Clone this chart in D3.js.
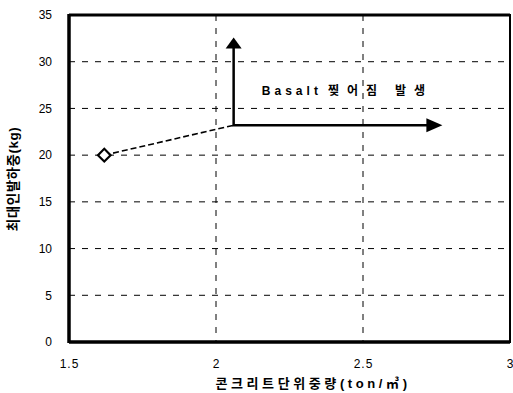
<!DOCTYPE html>
<html lang="ko">
<head>
<meta charset="UTF-8">
<title>콘크리트 단위중량 vs 최대인발하중</title>
<script src="https://d3js.org/d3.v7.min.js"></script>
<style>
  body { margin: 0; background: #fff; font-family: "Liberation Sans", Arial, "Noto Sans CJK KR", sans-serif; }
  .tick text { font-size: 12px; fill: #000; }
  .grid line { stroke: #000; stroke-width: 1; stroke-dasharray: 6,7; }
</style>
</head>
<body>
<script>
// data
const xTicks = [1.5, 2, 2.5, 3];
const yTicks = [0, 5, 10, 15, 20, 25, 30, 35];
const density = [1.62];        // ton/m3
const pullout = [20];          // kg
// dashed leader from the point to the arrow corner
const leaderX = [1.62, 2.06];
const leaderY = [20, 23.2];
// arrow corner and ends
const arrowCorner = [2.06, 23.2];
const arrowUpEnd = 32.6;
const arrowRightEnd = 2.77;
const noteLatin = "Basalt";
const noteHangul = ["찢어짐", "발생"];

const W = 513, H = 393;
const margin = {top: 15, right: 3, bottom: 51, left: 69};
const width = W - margin.left - margin.right,
      height = H - margin.top - margin.bottom;

const svg = d3.select('body').append('svg')
    .attr('width', W)
    .attr('height', H);

const g = svg.append('g')
    .attr('transform', `translate(${margin.left},${margin.top})`);

const x = d3.scaleLinear().domain([1.5, 3]).range([0, width]);
const y = d3.scaleLinear().domain([0, 35]).range([height, 0]);

// grid
g.append('g').attr('class', 'grid')
  .selectAll('line').data(yTicks.slice(1, -1)).enter().append('line')
    .attr('x1', 0).attr('x2', width)
    .attr('y1', d => y(d)).attr('y2', d => y(d));
g.append('g').attr('class', 'grid')
  .selectAll('line').data(xTicks.slice(1, -1)).enter().append('line')
    .attr('y1', 0).attr('y2', height)
    .attr('x1', d => x(d)).attr('x2', d => x(d));

// axes
const xAxis = g.append('g')
    .attr('transform', `translate(0,${height})`)
    .call(d3.axisBottom(x).tickValues(xTicks).tickSize(0).tickPadding(17)
      .tickFormat(d => d3.format('')(d)));
const yAxis = g.append('g')
    .call(d3.axisLeft(y).tickValues(yTicks).tickSize(0).tickPadding(17));
xAxis.select('.domain').remove();
yAxis.select('.domain').remove();
xAxis.selectAll('text').attr('letter-spacing', '1px');

// frame
g.append('rect').attr('x', 0).attr('y', 0).attr('width', width).attr('height', height)
  .attr('fill', 'none').attr('stroke', '#000').attr('stroke-width', 2);
g.append('line').attr('x1', 0).attr('x2', 0).attr('y1', -1).attr('y2', height + 1)
  .attr('stroke', '#000').attr('stroke-width', 3.5);
g.append('line').attr('x1', 0).attr('x2', width).attr('y1', height).attr('y2', height)
  .attr('stroke', '#000').attr('stroke-width', 3.5);
g.append('line').attr('x1', 0).attr('x2', width).attr('y1', 0).attr('y2', 0)
  .attr('stroke', '#000').attr('stroke-width', 3);

// leader line
g.append('path')
  .datum(leaderX.map((v, i) => [v, leaderY[i]]))
  .attr('d', d3.line().x(d => x(d[0])).y(d => y(d[1])))
  .attr('fill', 'none').attr('stroke', '#000').attr('stroke-width', 1.6)
  .attr('stroke-dasharray', '6,3');

// point
g.selectAll('.pt').data(density).enter().append('path')
  .attr('class', 'pt')
  .attr('transform', (d, i) => `translate(${x(d)},${y(pullout[i])}) rotate(45)`)
  .attr('d', d3.symbol(d3.symbolSquare, 80)())
  .attr('fill', '#fff').attr('stroke', '#000').attr('stroke-width', 2.2);

// arrows
const cx = x(arrowCorner[0]), cy = y(arrowCorner[1]);
const upY = y(arrowUpEnd), rightX = x(arrowRightEnd);
g.append('path')
  .attr('d', `M${cx},${upY + 10} L${cx},${cy} L${rightX - 14},${cy}`)
  .attr('fill', 'none').attr('stroke', '#000').attr('stroke-width', 2.5);
g.append('path')
  .attr('d', `M${cx},${upY} L${cx - 8},${upY + 11} L${cx + 8},${upY + 11} Z`)
  .attr('fill', '#000');
g.append('path')
  .attr('d', `M${rightX},${cy} L${rightX - 16},${cy - 7} L${rightX - 16},${cy + 7} Z`)
  .attr('fill', '#000');

const note = g.append('text')
  .attr('x', x(2.156)).attr('y', y(26.4))
  .attr('font-size', 12).attr('font-weight', 'bold');
note.append('tspan').attr('letter-spacing', '4px').text(noteLatin);
note.append('tspan').attr('dx', 6).attr('letter-spacing', '8px').text(noteHangul[0]);
note.append('tspan').attr('dx', 10).attr('letter-spacing', '8px').text(noteHangul[1]);

// axis titles
svg.append('text')
  .attr('x', 313).attr('y', 388)
  .attr('text-anchor', 'middle')
  .attr('font-size', 13).attr('font-weight', 'bold')
  .attr('letter-spacing', '3.6px')
  .text('콘크리트단위중량(ton/㎥)');
svg.append('text')
  .attr('transform', 'translate(18,179) rotate(-90)')
  .attr('text-anchor', 'middle')
  .attr('font-size', 13.5).attr('font-weight', 'bold')
  .attr('letter-spacing', '0.5px')
  .text('최대인발하중(kg)');
</script>
</body>
</html>
